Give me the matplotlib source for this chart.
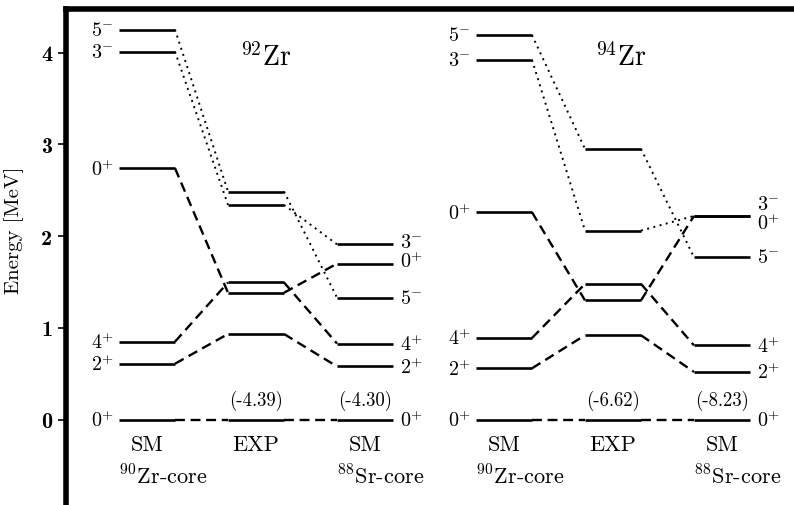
import matplotlib.pyplot as plt

plt.rcParams['font.family'] = 'serif'
plt.rcParams['font.serif'] = ['cmr10']
plt.rcParams['mathtext.fontset'] = 'cm'
plt.rcParams['axes.formatter.use_mathtext'] = True

# spin/parity of each tracked state, same order in every level list below
spins = ['0+', '2+', '4+', '0+', '3-', '5-']

# excitation energies [MeV]: SM with 90Zr core, experiment, SM with 88Sr core
zr92_sm_zr = [0.0, 0.61, 0.85, 2.74, 4.01, 4.25]
zr92_exp = [0.0, 0.934, 1.495, 1.383, 2.340, 2.486]
zr92_sm_sr = [0.0, 0.58, 0.83, 1.70, 1.91, 1.33]

zr94_sm_zr = [0.0, 0.56, 0.89, 2.26, 3.92, 4.19]
zr94_exp = [0.0, 0.92, 1.48, 1.30, 2.06, 2.95]
zr94_sm_sr = [0.0, 0.52, 0.81, 2.22, 2.22, 1.77]

# ground state energies printed above the 0+ levels
zr92_binding = ['(-4.39)', '(-4.30)']
zr94_binding = ['(-6.62)', '(-8.23)']

energy_ticks = [0, 1, 2, 3, 4]
nuclei = ['92', '94']
columns = ['SM', 'EXP', 'SM']
cores = [r'$^{90}$Zr-core', r'$^{88}$Sr-core']

panels = [
    (zr92_sm_zr, zr92_exp, zr92_sm_sr, zr92_binding),
    (zr94_sm_zr, zr94_exp, zr94_sm_sr, zr94_binding),
]

LEVEL_W = 0.56
COL_X = [0.53, 1.62, 2.71]
PANEL_SHIFT = 3.57


def spin_tex(s):
    return r'$%s^{%s}$' % (s[0], s[1])


def spread(ys, min_gap=0.21):
    # push apart label positions that would overlap
    order = sorted(range(len(ys)), key=lambda i: ys[i])
    out = list(ys)
    for a, b in zip(order, order[1:]):
        if out[b] - out[a] < min_gap:
            mid = 0.5 * (out[a] + out[b]) + 0.03
            out[a] = mid - min_gap / 2
            out[b] = mid + min_gap / 2
    return out


fig = plt.figure(figsize=(7.94, 5.06), dpi=100)
ax = fig.add_axes([66 / 794, 0, 728 / 794, 496 / 506])
ax.set_xlim(0, 7.28)
ax.set_ylim(-0.929, 4.474)

for p, (sm_zr, exp, sm_sr, binding) in enumerate(panels):
    xs = [x + p * PANEL_SHIFT for x in COL_X]
    cols = [sm_zr, exp, sm_sr]

    # level lines
    for x0, levels in zip(xs, cols):
        for e in levels:
            ax.plot([x0, x0 + LEVEL_W], [e, e], color='k', lw=1.9,
                    solid_capstyle='butt')

    # connectors between neighbouring columns
    for c in range(2):
        for i, s in enumerate(spins):
            xa, xb = xs[c] + LEVEL_W, xs[c + 1]
            ya, yb = cols[c][i], cols[c + 1][i]
            if s.endswith('-'):
                ax.plot([xa, xb], [ya, yb], color='k', lw=1.4,
                        linestyle=(0, (1, 2.3)))
            else:
                ax.plot([xa, xb], [ya, yb], color='k', lw=1.7,
                        linestyle=(0, (4.2, 2.4)))

    # spin labels on the outer columns
    for e, s in zip(spread(sm_zr), spins):
        ax.text(xs[0] - 0.05, e, spin_tex(s), ha='right', va='center',
                fontsize=14.5)
    for e, s in zip(spread(sm_sr), spins):
        ax.text(xs[2] + LEVEL_W + 0.07, e, spin_tex(s), ha='left',
                va='center', fontsize=14.5)

    # ground state energies
    for x0, txt in zip(xs[1:], binding):
        ax.text(x0 + LEVEL_W / 2, 0.22, txt, ha='center', va='center',
                fontsize=13.5)

    # column and core captions
    for x0, name in zip(xs, columns):
        ax.text(x0 + LEVEL_W / 2, -0.33, name, ha='center', va='baseline',
                fontsize=16)
    ax.text(xs[0], -0.70, cores[0], ha='left', va='baseline', fontsize=16)
    ax.text(xs[2], -0.70, cores[1], ha='left', va='baseline', fontsize=16)

    ax.text(1.74 + p * 3.55, 3.86, r'$^{%s}$Zr' % nuclei[p],
            ha='left', va='baseline', fontsize=20)

ax.set_xticks([])
ax.set_yticks(energy_ticks)
ax.set_yticklabels([str(t) for t in energy_ticks], fontfamily='cmb10',
                   fontsize=16)
ax.tick_params(axis='y', direction='out', length=6, width=1.2, pad=4)
ax.spines['right'].set_visible(False)
ax.spines['bottom'].set_visible(False)
ax.spines['left'].set_linewidth(4)
ax.spines['top'].set_linewidth(4)

fig.text(14 / 794, 1 - 230 / 506, 'Energy [MeV]', rotation=90,
         ha='center', va='center', fontsize=15)

fig.savefig('out.png', dpi=100)
